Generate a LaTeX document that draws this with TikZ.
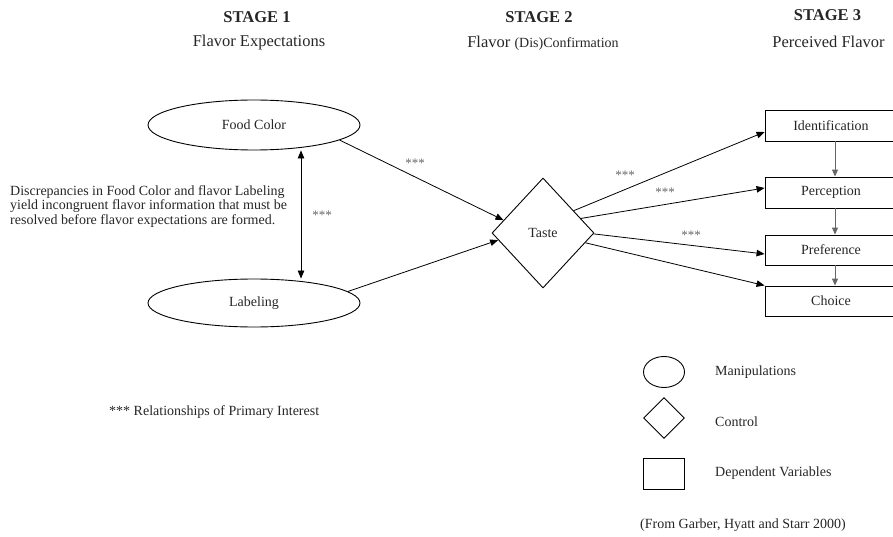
\documentclass[tikz,border=0pt]{standalone}
\usepackage{fontspec}
\setmainfont{Liberation Serif}
\usetikzlibrary{shapes.geometric,arrows.meta}
\begin{document}
\begin{tikzpicture}[x=1pt,y=-1pt,
  lbl/.style={inner sep=0pt,font=\fontsize{14}{14}\selectfont,text=black!85},
  hdr/.style={inner sep=0pt,font=\fontsize{16.5}{16.5}\selectfont\bfseries,text=black!85},
  sub/.style={inner sep=0pt,font=\fontsize{16.5}{16.5}\selectfont,text=black!85},
  star/.style={inner sep=0pt,font=\fontsize{13}{13}\selectfont,text=black!60},
  manip/.style={draw,ellipse,line width=0.9pt,inner sep=0pt,font=\fontsize{14}{14}\selectfont,text=black!85},
  ctrl/.style={draw,diamond,line width=0.9pt,inner sep=0pt,font=\fontsize{14}{14}\selectfont,text=black!85},
  dep/.style={draw,rectangle,line width=0.9pt,inner sep=0pt,minimum width=132pt,font=\fontsize{14}{14}\selectfont,text=black!85},
  arr/.style={line width=0.8pt,-{Triangle[length=8pt,width=6.5pt]}},
  darr/.style={line width=0.8pt,{Triangle[length=8pt,width=6.5pt]}-{Triangle[length=8pt,width=6.5pt]}},
  garr/.style={line width=1pt,draw=black!60,-{Triangle[length=7pt,width=6pt]}}
]
\useasboundingbox (0,0) rectangle (893,537);
\clip (0,0) rectangle (893,537);

% headers
\node[hdr] (s1) at (257,17) {STAGE 1};
\node[sub] (s1b) at (259,43) {Flavor Expectations};
\node[hdr] (s2) at (539,17) {STAGE 2};
\node[sub] (s2b) at (543,43) {Flavor {\fontsize{14}{14}\selectfont(Dis)Confirmation}};
\node[hdr] (s3) at (827.5,15) {STAGE 3};
\node[sub] (s3b) at (828.5,42) {Perceived Flavor};

% manipulations
\node[manip,minimum width=212pt,minimum height=50pt] (fc) at (254,125) {Food Color};
\node[manip,minimum width=212pt,minimum height=48pt] (lab) at (254,303) {Labeling};
\node[ctrl,minimum width=102pt,minimum height=110pt] (taste) at (543,233) {Taste};

% dependent variables
\node[dep,minimum height=31pt] (ident) at (831,125.5) {Identification};
\node[dep,minimum height=31pt] (percep) at (831,192.5) {Perception};
\node[dep,minimum height=30pt] (pref) at (831,250) {Preference};
\node[dep,minimum height=30pt] (choice) at (831,301) {Choice};

% discrepancy text
\node[lbl,anchor=west,align=left,font=\fontsize{14}{14.2}\selectfont] (disc) at (10,206.5) {Discrepancies in Food Color and flavor Labeling\\yield incongruent flavor information that must be\\resolved before flavor expectations are formed.};

% connectors
\coordinate (ax) at (301,0);
\draw[darr] (fc.south -| ax) -- (lab.north -| ax);
\draw[arr] (fc.-10) -- (taste.162);
\draw[arr] (lab.7) -- (taste.189);
\draw[arr] (taste.36) -- ([yshift=-6.5pt]ident.west);
\draw[arr] (taste.21) -- ([yshift=4.5pt]percep.west);
\draw[arr] (taste.-1) -- ([yshift=-4pt]pref.west);
\draw[arr] (taste.-13) -- ([yshift=15.5pt]choice.west);

\coordinate (bx) at (835,0);
\draw[garr] (ident.south -| bx) -- (percep.north -| bx);
\draw[garr] (percep.south -| bx) -- (pref.north -| bx);
\draw[garr] (pref.south -| bx) -- (choice.north -| bx);

% asterisks
\node[star] (a1) at (415,163) {***};
\node[star] (a2) at (322,215) {***};
\node[star] (a3) at (625,175) {***};
\node[star] (a4) at (665,192) {***};
\node[star] (a5) at (691,235) {***};

% notes
\node[lbl,anchor=west] (rel) at (109,412) {*** Relationships of Primary Interest};

% legend
\node[manip,minimum width=41pt,minimum height=31pt] (lg1) at (664,372) {};
\node[ctrl,minimum width=41pt,minimum height=41pt] (lg2) at (664,418) {};
\node[dep,minimum width=41pt,minimum height=31pt] (lg3) at (664,474) {};
\node[lbl,anchor=west] (lt1) at (715,372) {Manipulations};
\node[lbl,anchor=west] (lt2) at (715,422) {Control};
\node[lbl,anchor=west] (lt3) at (715,473) {Dependent Variables};
\node[lbl,anchor=west] (src) at (640,525) {(From Garber, Hyatt and Starr 2000)};
\end{tikzpicture}
\end{document}
